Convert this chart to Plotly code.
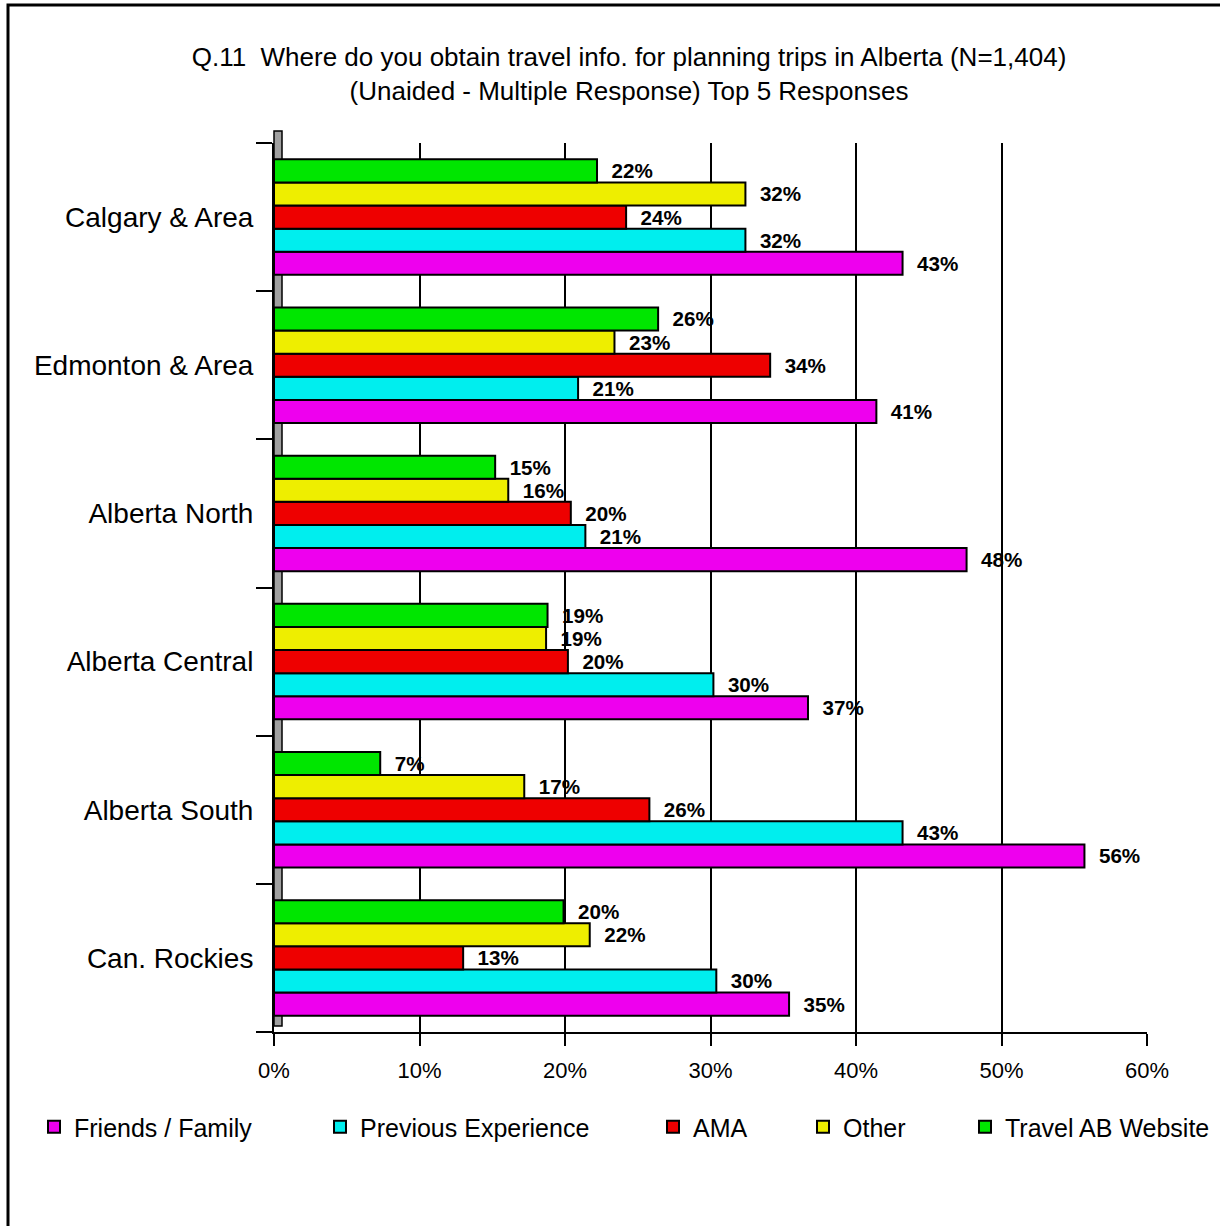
import plotly.graph_objects as go

categories = ["Calgary & Area", "Edmonton & Area", "Alberta North",
              "Alberta Central", "Alberta South", "Can. Rockies"]
series_names = ["Friends / Family", "Previous Experience", "AMA", "Other", "Travel AB Website"]
friends_family = [43.2, 41.4, 47.6, 36.7, 55.7, 35.4]
previous_experience = [32.4, 20.9, 21.4, 30.2, 43.2, 30.4]
ama = [24.2, 34.1, 20.4, 20.2, 25.8, 13.0]
other = [32.4, 23.4, 16.1, 18.7, 17.2, 21.7]
travel_ab_website = [22.2, 26.4, 15.2, 18.8, 7.3, 19.9]
x_ticks = [0, 10, 20, 30, 40, 50, 60]

series_values = [friends_family, previous_experience, ama, other, travel_ab_website]
colors = ["#EE00EE", "#00EEEE", "#EE0000", "#EEEE00", "#00E600"]
legend_swatch_centers = [54, 340, 673, 823, 985]

FONT = "Liberation Sans, Arial, sans-serif"
W, H = 1220, 1226
L, R, T, B = 274, 73, 143, 194
pw, ph = W - L - R, H - T - B


def px(x):
    return (x - L) / pw


def py(y):
    return (H - B - y) / ph


legend_ids = ["legend"] + [f"legend{i}" for i in range(2, len(series_names) + 1)]

fig = go.Figure()
for name, vals, col, lid in zip(series_names, series_values, colors, legend_ids):
    fig.add_trace(go.Bar(
        y=categories, x=vals, name=name, orientation="h",
        marker=dict(color=col, line=dict(color="black", width=2)),
        texttemplate="\u00a0\u00a0%{x:.0f}%", textposition="outside",
        textfont=dict(family=FONT, size=25, color="black", weight="bold"),
        cliponaxis=False, legend=lid,
    ))

layout_legends = {}
for lid, cx in zip(legend_ids, legend_swatch_centers):
    layout_legends[lid] = dict(
        orientation="h", x=px(cx - 20), xanchor="left", y=py(1127), yanchor="middle",
        font=dict(family=FONT, size=25, color="black"),
        bgcolor="rgba(0,0,0,0)",
    )

fig.update_layout(
    width=W, height=H,
    margin=dict(l=L, r=R, t=T, b=B, autoexpand=False),
    paper_bgcolor="white", plot_bgcolor="white",
    barmode="group", bargap=0.22, bargroupgap=0,
    font=dict(family=FONT, color="black"),
    title=dict(
        text="Q.11  Where do you obtain travel info. for planning trips in Alberta (N=1,404)<br>(Unaided - Multiple Response) Top 5 Responses",
        x=629 / W, xanchor="center", y=1 - 66 / H, yanchor="middle",
        font=dict(family=FONT, size=26, color="black"),
    ),
    xaxis=dict(
        range=[0, 60], tickvals=x_ticks, ticktext=[f"{v}%" for v in x_ticks],
        showgrid=True, gridcolor="black", gridwidth=1.5,
        ticks="outside", ticklen=12, tickcolor="black", tickwidth=1.5,
        showline=True, linecolor="black", linewidth=2,
        ticklabelstandoff=6,
        tickfont=dict(family=FONT, size=22, color="black"),
        zeroline=False, fixedrange=True,
    ),
    yaxis=dict(
        categoryorder="array", categoryarray=list(reversed(categories)),
        tickson="boundaries", ticks="outside", ticklen=16, tickcolor="black", tickwidth=1.5,
        showline=True, linecolor="black", linewidth=2,
        showgrid=False, ticklabelstandoff=13,
        tickfont=dict(family=FONT, size=28, color="black"),
        fixedrange=True,
    ),
    showlegend=True,
    **layout_legends,
)

shapes = [
    # outer frame (top and left edges visible)
    dict(type="rect", xref="paper", yref="paper", x0=px(8), x1=px(1300), y0=py(1400), y1=py(5),
         line=dict(color="black", width=3), fillcolor="rgba(0,0,0,0)", layer="above"),
    # 3D side wall
    dict(type="rect", xref="paper", yref="paper", x0=0, x1=px(L + 8), y0=py(H - B - 6), y1=py(T - 12),
         line=dict(color="black", width=1.5), fillcolor="#A0A0A0", layer="below"),
]
fig.update_layout(shapes=shapes)

fig.write_html(
    "out.html",
    config={"displayModeBar": False},
    post_script="document.body.style.margin='0';document.body.style.overflow='hidden';",
)
